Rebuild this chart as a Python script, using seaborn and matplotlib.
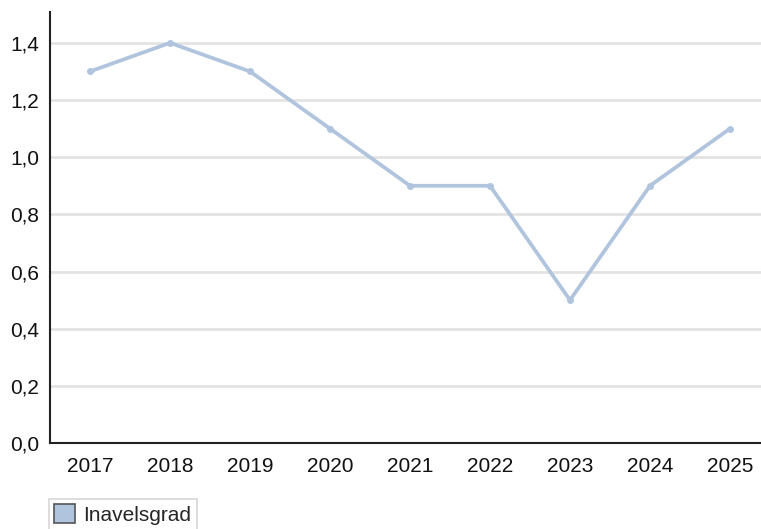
import numpy as np
import seaborn as sns
import matplotlib.pyplot as plt
import pandas as pd
from matplotlib.patches import Patch
from matplotlib.ticker import FuncFormatter

years = [2017, 2018, 2019, 2020, 2021, 2022, 2023, 2024, 2025]
values = [1.3, 1.4, 1.3, 1.1, 0.9, 0.9, 0.5, 0.9, 1.1]
series_name = 'Inavelsgrad'
yticks = [0.0, 0.2, 0.4, 0.6, 0.8, 1.0, 1.2, 1.4]

sns.set_style('white')
plt.rcParams['font.family'] = ['Liberation Sans', 'DejaVu Sans']

df = pd.DataFrame({'year': years, 'value': values})
color = '#b0c4de'

fig = plt.figure(figsize=(7.61, 5.29), dpi=100)
ax = fig.add_axes([50 / 761, 86 / 529, 711 / 761, 431 / 529])

for y in yticks[1:]:
    ax.axhline(y, color='#e3e3e3', lw=2, zorder=0)

sns.lineplot(data=df, x='year', y='value', ax=ax, color=color, lw=2.7,
             marker='o', markersize=5, markeredgewidth=0, zorder=3)

ax.set_xlim(2016.5, 2016.5 + 711 / 80)
ax.set_ylim(0, 1.508)
ax.set_xticks(years)
ax.set_yticks(yticks)
ax.yaxis.set_major_formatter(FuncFormatter(lambda v, p: f'{v:.1f}'.replace('.', ',')))
ax.set_xlabel('')
ax.set_ylabel('')

for s in ['top', 'right']:
    ax.spines[s].set_visible(False)
for s in ['left', 'bottom']:
    ax.spines[s].set_color('#222222')
    ax.spines[s].set_linewidth(1.5)

ax.tick_params(axis='x', direction='in', length=5, width=1.2, colors='#222222',
               labelsize=15, pad=10, labelcolor='#111111')
ax.tick_params(axis='y', length=0, labelsize=15, pad=8, labelcolor='#111111')

handle = Patch(facecolor=color, edgecolor='#555555', linewidth=1.2)
leg = fig.legend([handle], [series_name], loc='lower left',
                 bbox_to_anchor=(49 / 761, -0.002), fontsize=15,
                 frameon=True, fancybox=False, handlelength=1.0, handleheight=1.0,
                 handletextpad=0.4, borderpad=0.25, borderaxespad=0.0)
leg.get_frame().set_edgecolor('#cccccc')
leg.get_frame().set_linewidth(1.2)

fig.savefig('out.png', dpi=100)
